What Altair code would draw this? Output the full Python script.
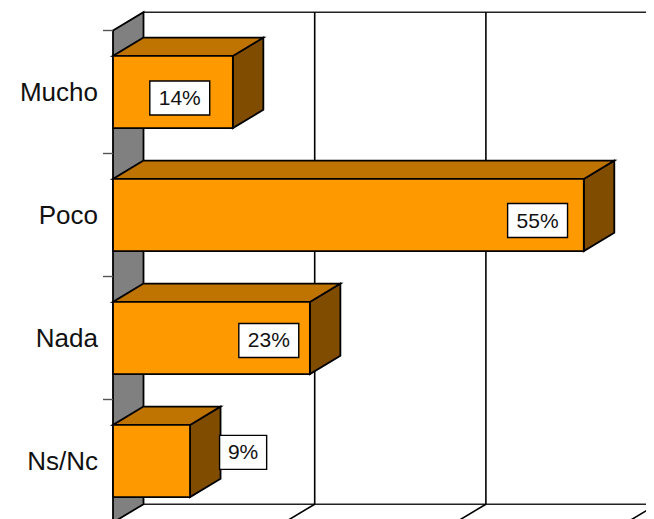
import altair as alt
import pandas as pd

# ---- chart values
categories = ["Mucho", "Poco", "Nada", "Ns/Nc"]
values = [14, 55, 23, 9]
labels = ["14%", "55%", "23%", "9%"]
x_ticks = [20, 40, 60]

# ---- hand placement of the value boxes (value units / slot units) and box half widths
box_x = [7.8, 49.6, 18.2, 15.2]
box_y = [0.549, 1.545, 2.52, 3.43]
box_hw = [3.5, 3.5, 3.5, 2.75]
box_hh = 0.138

# ---- geometry of the fake 3D scene
PX_X = 8.56       # px per percent
PX_Y = 123.0      # px per category slot
W, H = 533, 511
PAD_L, PAD_T = 105, 0
DX = 30.5 / PX_X  # depth expressed in x units
DY = 18.3 / PX_Y  # depth expressed in y units
GAP = 0.2065
N = len(categories)

x_scale = alt.Scale(domain=[0, W / PX_X], nice=False, zero=False)
y_scale = alt.Scale(domain=[(H + 8 - 30.5) / PX_Y, (8 - 30.5) / PX_Y], nice=False, zero=False)
X = lambda f: alt.X(f, type="quantitative", scale=x_scale, axis=None, stack=None)
Y = lambda f: alt.Y(f, type="quantitative", scale=y_scale, axis=None, stack=None)
X2 = lambda f: alt.X2(f)
Y2 = lambda f: alt.Y2(f)

ORANGE, TOP, SIDE, WALL = "#FF9900", "#BF7300", "#804C00", "#808080"
INK = "#000000"
SW = 1.8

# ---- tables
bars = pd.DataFrame({
    "cat": categories,
    "v": values,
    "y0": [i + GAP for i in range(N)],
    "y1": [i + 1 - GAP for i in range(N)],
    "x0": [0] * N,
})

side = pd.DataFrame(
    [{"cat": c, "x": v, "y": i + GAP, "y2": i + 1 - GAP} for i, (c, v) in enumerate(zip(categories, values))]
    + [{"cat": c, "x": v + DX, "y": i + GAP - DY, "y2": i + 1 - GAP - DY} for i, (c, v) in enumerate(zip(categories, values))]
)
top = pd.DataFrame(
    [{"cat": c, "y": i + GAP, "x": 0, "x2": v} for i, (c, v) in enumerate(zip(categories, values))]
    + [{"cat": c, "y": i + GAP - DY, "x": DX, "x2": v + DX} for i, (c, v) in enumerate(zip(categories, values))]
)
wall = pd.DataFrame({"x": [0, DX], "y": [0, -DY], "y2": [N, N - DY]})
grid = pd.DataFrame({"x": [t + DX for t in x_ticks[:2]], "y": [-DY] * 2, "y2": [N - DY] * 2})
floor = pd.DataFrame({
    "x": [t for t in x_ticks], "x2": [t + DX for t in x_ticks],
    "y": [float(N)] * 3, "y2": [N - DY] * 3,
})
hlines = pd.DataFrame({"x": [DX, DX], "x2": [W / PX_X, W / PX_X], "y": [-DY, N - DY]})
slots = pd.DataFrame({"cat": categories, "y": [i + 0.5 for i in range(N)], "x": [0] * N})
boxes = pd.DataFrame({
    "t": labels, "xc": box_x, "yc": box_y,
    "x0": [a - b for a, b in zip(box_x, box_hw)],
    "x1": [a + b for a, b in zip(box_x, box_hw)],
    "y0": [a - box_hh for a in box_y],
    "y1": [a + box_hh for a in box_y],
})
ticks = pd.DataFrame({"y": [0, 1, 2, 3], "x": [0] * 4})

# ---- layers
hline_l = alt.Chart(hlines).mark_rule(color="#222222", strokeWidth=1.6).encode(
    x=X("x"), x2=X2("x2"), y=Y("y"))
grid_l = alt.Chart(grid).mark_rule(color=INK, strokeWidth=1.6).encode(
    x=X("x"), y=Y("y"), y2=Y2("y2"))
floor_l = alt.Chart(floor).mark_rule(color=INK, strokeWidth=1.6, clip=True).encode(
    x=X("x"), x2=X2("x2"), y=Y("y"), y2=Y2("y2"))
wall_l = alt.Chart(wall).mark_area(color=WALL, stroke=INK, strokeWidth=SW, opacity=1).encode(
    x=X("x"), y=Y("y"), y2=Y2("y2"))
tick_l = alt.Chart(ticks).mark_rule(color="#555555", strokeWidth=1.4).encode(
    x=alt.value(-10), x2=alt.value(0), y=Y("y"))
side_l = alt.Chart(side).mark_area(color=SIDE, stroke=INK, strokeWidth=SW, opacity=1).encode(
    x=X("x"), y=Y("y"), y2=Y2("y2"), detail="cat:N")
top_l = alt.Chart(top).mark_area(color=TOP, stroke=INK, strokeWidth=SW, opacity=1, orient="horizontal").encode(
    y=Y("y"), x=X("x"), x2=X2("x2"), detail="cat:N")
front_l = alt.Chart(bars).mark_rect(color=ORANGE, stroke=INK, strokeWidth=SW).encode(
    x=X("x0"), x2=X2("v"), y=Y("y0"), y2=Y2("y1"))
box_l = alt.Chart(boxes).mark_rect(color="#FFFFFF", stroke=INK, strokeWidth=1.4).encode(
    x=X("x0"), x2=X2("x1"), y=Y("y0"), y2=Y2("y1"))
box_t = alt.Chart(boxes).mark_text(font="Liberation Sans", fontSize=21, color="#111111", baseline="middle", align="center", dy=1).encode(
    x=X("xc"), y=Y("yc"), text="t:N")
cat_t = alt.Chart(slots).mark_text(font="Liberation Sans", fontSize=26, color="#111111", baseline="middle", align="right", clip=False, dy=1).encode(
    x=alt.value(-15), y=Y("y"), text="cat:N")

chart = alt.layer(
    hline_l, grid_l, floor_l, wall_l, tick_l, side_l, top_l, front_l, box_l, box_t, cat_t
).properties(
    width=W, height=H,
    padding={"left": PAD_L, "top": PAD_T, "right": 0, "bottom": 0},
    autosize=alt.AutoSizeParams(type="none"),
    background="#FFFFFF",
).configure_view(stroke=None)

chart.save("out.html", embed_options={"renderer": "svg", "actions": False})
